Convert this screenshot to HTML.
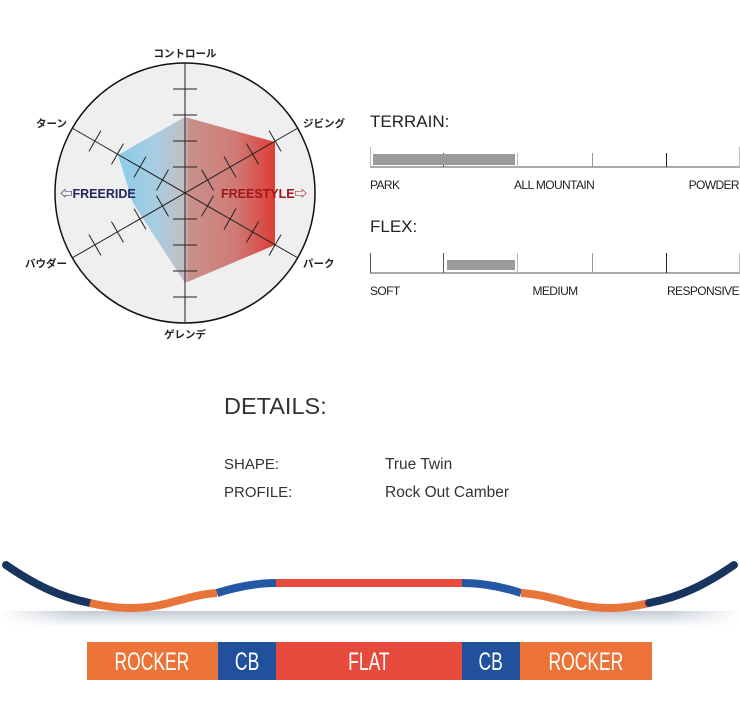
<!DOCTYPE html>
<html><head><meta charset="utf-8"><style>
html,body{margin:0;padding:0;background:#fff;}
svg{display:block}
text{font-family:"Liberation Sans","Noto Sans CJK JP",sans-serif}
</style></head><body>
<svg width="740" height="720" viewBox="0 0 740 720" xmlns="http://www.w3.org/2000/svg">
<defs>
<linearGradient id="pg" x1="118" y1="0" x2="275" y2="0" gradientUnits="userSpaceOnUse">
<stop offset="0" stop-color="#8ccbec"/>
<stop offset="0.25" stop-color="#a8cde0"/>
<stop offset="0.43" stop-color="#c4bcc0"/>
<stop offset="0.45" stop-color="#c9918c"/>
<stop offset="0.75" stop-color="#cf7a75"/>
<stop offset="1" stop-color="#de3c36"/>
</linearGradient>
<linearGradient id="sh" x1="0" y1="0" x2="0" y2="1">
<stop offset="0" stop-color="#c3cad6"/>
<stop offset="1" stop-color="#ffffff"/>
</linearGradient>
<linearGradient id="shx" x1="0" y1="0" x2="1" y2="0">
<stop offset="0" stop-color="#fff" stop-opacity="1"/>
<stop offset="0.1" stop-color="#fff" stop-opacity="0"/>
<stop offset="0.9" stop-color="#fff" stop-opacity="0"/>
<stop offset="1" stop-color="#fff" stop-opacity="1"/>
</linearGradient>
</defs>
<circle cx="185" cy="193" r="130" fill="#efefef" stroke="#111" stroke-width="1.5"/>
<polygon points="185,117 275,142 275,245 185,283 133,203 118,155" fill="url(#pg)"/>
<g stroke="#222" stroke-width="1">
<line x1="185" y1="63" x2="185" y2="323"/>
<line x1="72" y1="128" x2="298" y2="258"/>
<line x1="72" y1="258" x2="298" y2="128"/>
<g id="tk">
<line x1="173" y1="89" x2="197" y2="89"/><line x1="173" y1="115" x2="197" y2="115"/>
<line x1="173" y1="141" x2="197" y2="141"/><line x1="173" y1="167" x2="197" y2="167"/>
<line x1="173" y1="219" x2="197" y2="219"/><line x1="173" y1="245" x2="197" y2="245"/>
<line x1="173" y1="271" x2="197" y2="271"/><line x1="173" y1="297" x2="197" y2="297"/>
</g>
<use href="#tk" transform="rotate(60 185 193)"/>
<use href="#tk" transform="rotate(-60 185 193)"/>
</g>
<g font-size="10.5" font-weight="bold" fill="#222">
<text x="185" y="57" text-anchor="middle">コントロール</text>
<text x="185" y="338" text-anchor="middle">ゲレンデ</text>
<text x="67" y="127" text-anchor="end">ターン</text>
<text x="303" y="127">ジビング</text>
<text x="67" y="267" text-anchor="end">バウダー</text>
<text x="303" y="267">パーク</text>
</g>
<text x="60" y="198" font-size="12.5" font-weight="bold" fill="#23255e">⇦FREERIDE</text>
<text x="221" y="198" font-size="12.5" font-weight="bold" fill="#a0141b">FREESTYLE⇨</text>
<g fill="#222">
<text x="370" y="127" font-size="17">TERRAIN:</text>
<text x="370" y="232" font-size="17">FLEX:</text>
<g font-size="12" letter-spacing="-0.6">
<text x="370" y="189">PARK</text>
<text x="514" y="189">ALL MOUNTAIN</text>
<text x="739" y="189" text-anchor="end">POWDER</text>
<text x="370" y="295">SOFT</text>
<text x="555" y="295" text-anchor="middle">MEDIUM</text>
<text x="739" y="295" text-anchor="end">RESPONSIVE</text>
</g>
</g>
<g stroke="#555" stroke-width="1">
<line x1="370" y1="167" x2="740" y2="167"/>
<line x1="370.5" y1="147" x2="370.5" y2="167" stroke="#bbb"/>
<line x1="443.5" y1="153" x2="443.5" y2="167"/>
<line x1="517.5" y1="153" x2="517.5" y2="167" stroke="#bbb"/>
<line x1="592.5" y1="153" x2="592.5" y2="167" stroke="#999"/>
<line x1="666.5" y1="153" x2="666.5" y2="167" stroke="#222"/>
<line x1="739.5" y1="147" x2="739.5" y2="167" stroke="#bbb"/>
<line x1="370" y1="273" x2="740" y2="273"/>
<line x1="370.5" y1="253" x2="370.5" y2="273"/>
<line x1="443.5" y1="253" x2="443.5" y2="273"/>
<line x1="517.5" y1="253" x2="517.5" y2="273" stroke="#bbb"/>
<line x1="592.5" y1="253" x2="592.5" y2="273" stroke="#999"/>
<line x1="666.5" y1="253" x2="666.5" y2="273" stroke="#222"/>
<line x1="739.5" y1="253" x2="739.5" y2="273" stroke="#bbb"/>
</g>
<rect x="373" y="154" width="142" height="11" fill="#9a9a9a"/>
<rect x="447" y="260" width="68" height="10" fill="#9a9a9a"/>
<g fill="#333">
<text x="224" y="414" font-size="23.5">DETAILS:</text>
<text x="224" y="469" font-size="15">SHAPE:</text>
<text x="224" y="497" font-size="15">PROFILE:</text>
<text x="385" y="469" font-size="15.5">True Twin</text>
<text x="385" y="497" font-size="15.5">Rock Out Camber</text>
</g>
<rect x="0" y="611" width="740" height="16" fill="url(#sh)"/>
<rect x="0" y="611" width="740" height="16" fill="url(#shx)"/>
<g fill="none" stroke-width="8" stroke-linecap="butt">
<path d="M6,565 C35,585 60,597 90,603" stroke="#17355f" stroke-linecap="round"/>
<path d="M90,603 C115,609 140,610 165,604 C185,599 200,594 217,593" stroke="#e8743a"/>
<path d="M217,593 C240,586 258,583 276,583" stroke="#2458a4"/>
<path d="M276,583 L462,583" stroke="#e84a3c"/>
<path d="M462,583 C480,583 500,586 521,593" stroke="#2458a4"/>
<path d="M521,593 C540,594 555,599 575,604 C600,610 625,609 649,603" stroke="#e8743a"/>
<path d="M649,603 C680,597 705,585 734,565" stroke="#17355f" stroke-linecap="round"/>
</g>
<rect x="87" y="642" width="131" height="38" fill="#ec7438"/>
<rect x="218" y="642" width="58" height="38" fill="#21509c"/>
<rect x="276" y="642" width="186" height="38" fill="#e64a3c"/>
<rect x="462" y="642" width="58" height="38" fill="#21509c"/>
<rect x="520" y="642" width="132" height="38" fill="#ec7438"/>
<g fill="#fff" font-size="25" text-anchor="middle" font-family="Liberation Sans Narrow, Liberation Sans, sans-serif" transform="scale(0.7 1)">
<text x="217" y="670">ROCKER</text>
<text x="353" y="670">CB</text>
<text x="527" y="670">FLAT</text>
<text x="701" y="670">CB</text>
<text x="837" y="670">ROCKER</text>
</g>
</svg>
</body></html>
